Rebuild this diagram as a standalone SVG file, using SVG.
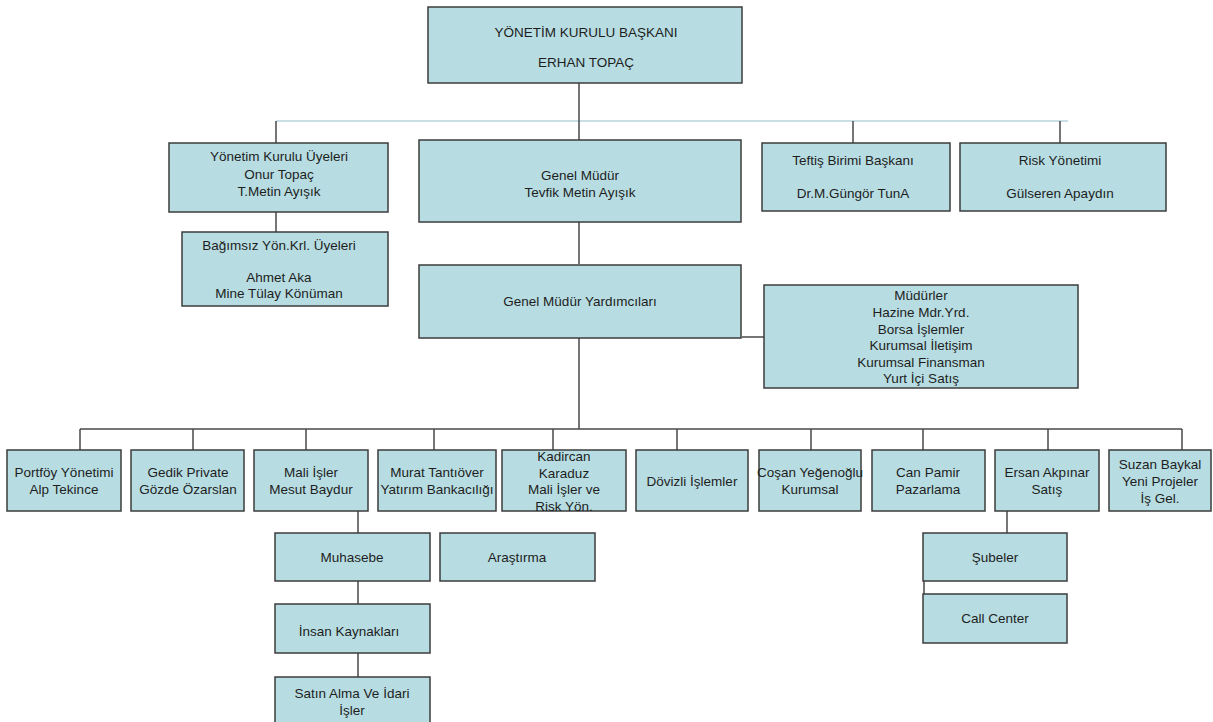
<svg xmlns="http://www.w3.org/2000/svg" width="1213" height="722" viewBox="0 0 1213 722">
<style>
.b{fill:#b7dde2;stroke:#3c3c3c;stroke-width:1.5}
.t{font-family:"Liberation Sans",Arial,sans-serif;font-size:13.5px;fill:#1e1e1e;text-anchor:middle}
.c{stroke:#4a4a4a;stroke-width:1.5;fill:none}
.l{stroke:#c9dfe5;stroke-width:2;fill:none}
</style>
<rect width="1213" height="722" fill="#fff"/>
<g id="connectors">
<line class="l" x1="276" y1="121" x2="1068" y2="121"/>
<path class="c" d="M579 83V140M276 121V143M853 121V143M1060 121V143M276 212V232M579 222V264M742 337H764M579 338V429M80 429H1182M80 429V450M193 429V450M306 429V450M434 429V450M553 429V450M677 429V450M811 429V450M923 429V450M1048 429V450M1182 429V450M358 511V533M358 581V604M358 653V677M1007 511V533M924 581V594"/>
</g>
<g id="n-baskan"><rect class="b" x="428" y="7" width="314" height="76"/><text class="t" x="586" y="37">YÖNETİM  KURULU  BAŞKANI</text><text class="t" x="586" y="67">ERHAN TOPAÇ</text></g>
<g id="n-yku"><rect class="b" x="169" y="143" width="219" height="69"/><text class="t" x="279" y="161">Yönetim Kurulu Üyeleri</text><text class="t" x="279" y="179">Onur Topaç</text><text class="t" x="279" y="196">T.Metin Ayışık</text></g>
<g id="n-gm"><rect class="b" x="419" y="140" width="322" height="82"/><text class="t" x="580" y="180">Genel  Müdür</text><text class="t" x="580" y="197">Tevfik  Metin  Ayışık</text></g>
<g id="n-teftis"><rect class="b" x="762" y="143" width="188" height="68"/><text class="t" x="853" y="165">Teftiş Birimi Başkanı</text><text class="t" x="853" y="198">Dr.M.Güngör  TunA</text></g>
<g id="n-risk"><rect class="b" x="960" y="143" width="206" height="68"/><text class="t" x="1060" y="165">Risk Yönetimi</text><text class="t" x="1060" y="198">Gülseren  Apaydın</text></g>
<g id="n-bagimsiz"><rect class="b" x="182" y="232" width="206" height="74"/><text class="t" x="279" y="250">Bağımsız  Yön.Krl. Üyeleri</text><text class="t" x="279" y="282">Ahmet Aka</text><text class="t" x="279" y="298">Mine Tülay Könüman</text></g>
<g id="n-gmy"><rect class="b" x="419" y="265" width="322" height="73"/><text class="t" x="580" y="306">Genel  Müdür Yardımcıları</text></g>
<g id="n-mudurler"><rect class="b" x="764" y="285" width="314" height="103"/><text class="t" x="921" y="300">Müdürler</text><text class="t" x="921" y="317">Hazine Mdr.Yrd.</text><text class="t" x="921" y="334">Borsa İşlemler</text><text class="t" x="921" y="350">Kurumsal İletişim</text><text class="t" x="921" y="367">Kurumsal Finansman</text><text class="t" x="921" y="383">Yurt İçi Satış</text></g>
<g id="n-portfoy"><rect class="b" x="7" y="450" width="114" height="61"/><text class="t" x="64" y="477">Portföy Yönetimi</text><text class="t" x="64" y="494">Alp Tekince</text></g>
<g id="n-gedik"><rect class="b" x="131" y="450" width="113" height="61"/><text class="t" x="188" y="477">Gedik  Private</text><text class="t" x="188" y="494">Gözde  Özarslan</text></g>
<g id="n-mali"><rect class="b" x="254" y="450" width="114" height="61"/><text class="t" x="311" y="477">Mali İşler</text><text class="t" x="311" y="494">Mesut Baydur</text></g>
<g id="n-murat"><rect class="b" x="378" y="450" width="118" height="61"/><text class="t" x="437" y="477">Murat Tantıöver</text><text class="t" x="437" y="494">Yatırım  Bankacılığı</text></g>
<g id="n-kadircan"><rect class="b" x="502" y="450" width="124" height="61"/><text class="t" x="564" y="461">Kadircan</text><text class="t" x="564" y="478">Karaduz</text><text class="t" x="564" y="494">Mali İşler ve</text><text class="t" x="564" y="511">Risk Yön.</text></g>
<g id="n-dovizli"><rect class="b" x="636" y="450" width="112" height="61"/><text class="t" x="692" y="486">Dövizli  İşlemler</text></g>
<g id="n-cosan"><rect class="b" x="759" y="450" width="102" height="61"/><text class="t" x="810" y="477">Coşan Yeğenoğlu</text><text class="t" x="810" y="494">Kurumsal</text></g>
<g id="n-canpamir"><rect class="b" x="872" y="450" width="113" height="61"/><text class="t" x="928" y="477">Can Pamir</text><text class="t" x="928" y="494">Pazarlama</text></g>
<g id="n-ersan"><rect class="b" x="995" y="450" width="104" height="61"/><text class="t" x="1047" y="477">Ersan Akpınar</text><text class="t" x="1047" y="494">Satış</text></g>
<g id="n-suzan"><rect class="b" x="1109" y="450" width="102" height="61"/><text class="t" x="1160" y="469">Suzan Baykal</text><text class="t" x="1160" y="486">Yeni Projeler</text><text class="t" x="1160" y="503">İş Gel.</text></g>
<g id="n-muhasebe"><rect class="b" x="275" y="533" width="155" height="48"/><text class="t" x="352" y="562">Muhasebe</text></g>
<g id="n-arastirma"><rect class="b" x="440" y="533" width="155" height="48"/><text class="t" x="517" y="562">Araştırma</text></g>
<g id="n-insan"><rect class="b" x="275" y="604" width="155" height="49"/><text class="t" x="349" y="636">İnsan  Kaynakları</text></g>
<g id="n-satin"><rect class="b" x="275" y="677" width="155" height="55"/><text class="t" x="352" y="698">Satın Alma Ve İdari</text><text class="t" x="352" y="715">İşler</text></g>
<g id="n-subeler"><rect class="b" x="923" y="533" width="144" height="48"/><text class="t" x="995" y="562">Şubeler</text></g>
<g id="n-callcenter"><rect class="b" x="923" y="594" width="144" height="49"/><text class="t" x="995" y="623">Call Center</text></g>
</svg>
